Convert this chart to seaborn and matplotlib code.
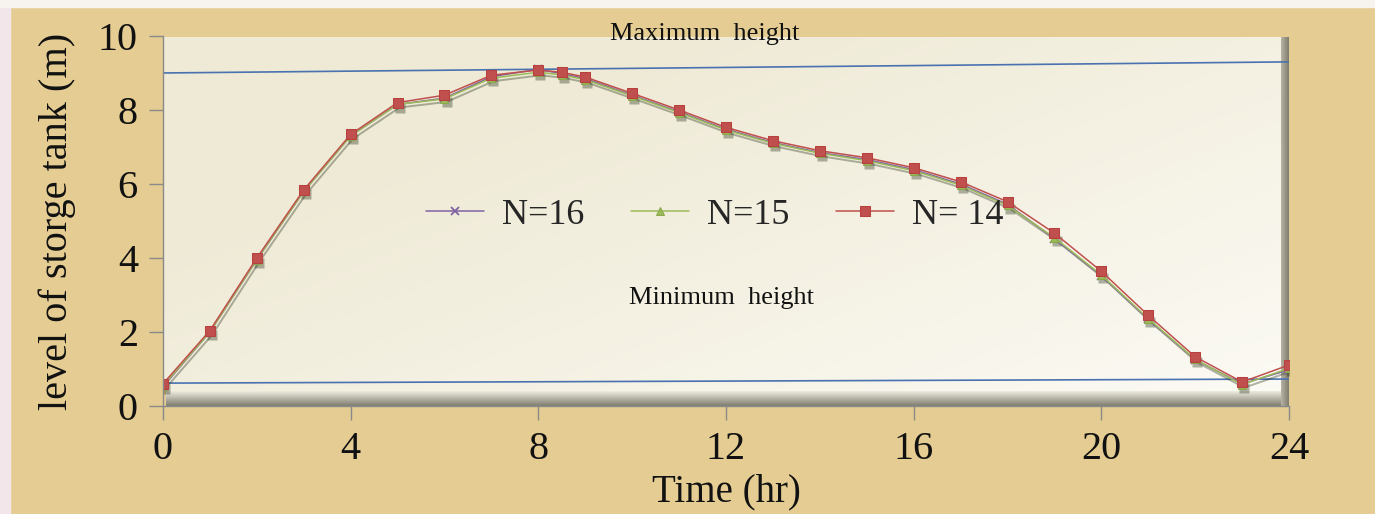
import numpy as np
import pandas as pd
import matplotlib
matplotlib.use("Agg")
import matplotlib.pyplot as plt
import matplotlib.transforms as mtransforms
from matplotlib.patches import Rectangle
import seaborn as sns

# ---- data ----
time_hr = [0, 1, 2, 3, 4, 5, 6, 7, 8, 8.5, 9, 10, 11, 12, 13, 14, 15, 16, 17, 18, 19, 20, 21, 22, 23, 24]
n16 = [0.52, 2.00, 3.95, 5.80, 7.30, 8.15, 8.32, 8.90, 9.10, 8.98, 8.85, 8.40, 7.95, 7.48, 7.12, 6.85,
       6.66, 6.39, 6.00, 5.45, 4.52, 3.52, 2.34, 1.25, 0.60, 0.98]
n15 = [0.55, 2.00, 3.96, 5.80, 7.30, 8.15, 8.30, 8.86, 9.02, 8.95, 8.82, 8.38, 7.93, 7.46, 7.10, 6.83,
       6.63, 6.36, 5.97, 5.42, 4.55, 3.54, 2.36, 1.26, 0.58, 1.02]
n14 = [0.60, 2.04, 4.00, 5.84, 7.34, 8.20, 8.40, 8.94, 9.08, 9.02, 8.89, 8.45, 8.00, 7.53, 7.17, 6.90,
       6.71, 6.44, 6.06, 5.52, 4.67, 3.64, 2.45, 1.33, 0.65, 1.11]
series_labels = ["N=16", "N=15", "N= 14"]
limit_x = [0, 24]
max_height = [9.0, 9.3]
min_height = [0.62, 0.73]
x_ticks = [0, 4, 8, 12, 16, 20, 24]
y_ticks = [0, 2, 4, 6, 8, 10]

sns.set_style("white")
plt.rcParams["font.family"] = ["Liberation Serif", "DejaVu Serif"]

fig = plt.figure(figsize=(13.75, 5.14), dpi=100)
fig.patch.set_facecolor("#e4cc92")
fig.add_artist(Rectangle((0, 0), 0.007, 1, transform=fig.transFigure, color="#f2e6ea", zorder=0))
fig.add_artist(Rectangle((0, 0.986), 1, 0.014, transform=fig.transFigure, color="#f7f3ee", zorder=0))

ax = fig.add_axes([0.1185, 0.210, 0.8190, 0.720])
ax.set_facecolor("none")

# panel with gradient
gx = np.linspace(0, 1, 200)
gy = np.linspace(0, 1, 100)
GX, GY = np.meshgrid(gx, gy)
t = np.clip(0.75 * GX + 0.6 * GY - 0.35, 0, 1)
c0 = np.array([0.937, 0.918, 0.839])
c1 = np.array([0.985, 0.980, 0.955])
img = c0[None, None, :] * (1 - t[..., None]) + c1[None, None, :] * t[..., None]
ax.imshow(img, extent=[0, 0.993, 0.04, 0.995], transform=ax.transAxes, aspect="auto",
          origin="upper", zorder=0.5)
# bottom shadow band (gradient light -> dark)
band = np.linspace(0, 1, 30)[:, None]
light = np.array([0.93, 0.92, 0.87])
dark = np.array([0.50, 0.49, 0.44])
bimg = light[None, None, :] * (1 - band[..., None]) + dark[None, None, :] * band[..., None]
bimg = np.repeat(bimg, 2, axis=1)
ax.imshow(bimg, extent=[0.003, 1.0, 0.0, 0.04], transform=ax.transAxes, aspect="auto",
          origin="upper", zorder=0.5)
# right shadow band
rband = np.linspace(0, 1, 20)[None, :]
rimg = np.array([0.72, 0.70, 0.64])[None, None, :] * (1 - rband[..., None]) + dark[None, None, :] * rband[..., None]
rimg = np.repeat(rimg, 2, axis=0)
ax.imshow(rimg, extent=[0.993, 1.0, 0.0, 0.995], transform=ax.transAxes, aspect="auto",
          origin="upper", zorder=0.5)

# reference lines
ax.plot(limit_x, max_height, color="#4a72b0", lw=1.2, zorder=2)
ax.plot(limit_x, min_height, color="#4a72b0", lw=1.2, zorder=2)

# drop shadow of the curves
shadow_tr = ax.transData + mtransforms.ScaledTranslation(1.5 / 72, -2.2 / 72, fig.dpi_scale_trans)
sns.lineplot(x=time_hr, y=n15, ax=ax, color="#1f2a10", alpha=0.35, marker="s", markersize=7,
             mec="none", lw=1.4, transform=shadow_tr, legend=False, zorder=2.5)

sns.lineplot(x=time_hr, y=n16, ax=ax, color="#8064a2", marker="x", markersize=6, mew=1.3, mec="#8064a2",
             lw=1.1, label=series_labels[0], zorder=3)
sns.lineplot(x=time_hr, y=n15, ax=ax, color="#9bbb59", marker="^", markersize=6, mec="#8aa84c",
             lw=1.1, label=series_labels[1], zorder=4)
sns.lineplot(x=time_hr, y=n14, ax=ax, color="#c0504d", marker="s", markersize=7, mec="#b8403d",
             lw=1.1, label=series_labels[2], zorder=5)

ax.set_xlim(0, 24)
ax.set_ylim(0, 10)
ax.set_xticks(x_ticks)
ax.set_yticks(y_ticks)
ax.tick_params(axis="both", labelsize=29, direction="out", length=10, width=1, color="#8a8a8a",
               labelcolor="#111111", pad=8, left=True, bottom=True)
for s in ["top", "right"]:
    ax.spines[s].set_visible(False)
for s in ["left", "bottom"]:
    ax.spines[s].set_color("#8a8a8a")
    ax.spines[s].set_linewidth(1.0)
    ax.spines[s].set_zorder(6)

ax.set_xlabel("Time (hr)", fontsize=28, labelpad=4, color="#111111")
ax.set_ylabel("level of storge tank (m)", fontsize=29, labelpad=16, color="#111111")

ax.text(11.55, 10.05, "Maximum  height", fontsize=19, ha="center", va="center", color="#111111", zorder=7)
ax.text(11.9, 2.93, "Minimum  height", fontsize=19, ha="center", va="center", color="#111111", zorder=7)

leg = ax.legend(loc="center", bbox_to_anchor=(0.49, 0.515), ncol=3, frameon=False,
                fontsize=26, handlelength=1.6, columnspacing=1.3, handletextpad=0.5)

fig.savefig("out.png", dpi=100, facecolor=fig.get_facecolor())
